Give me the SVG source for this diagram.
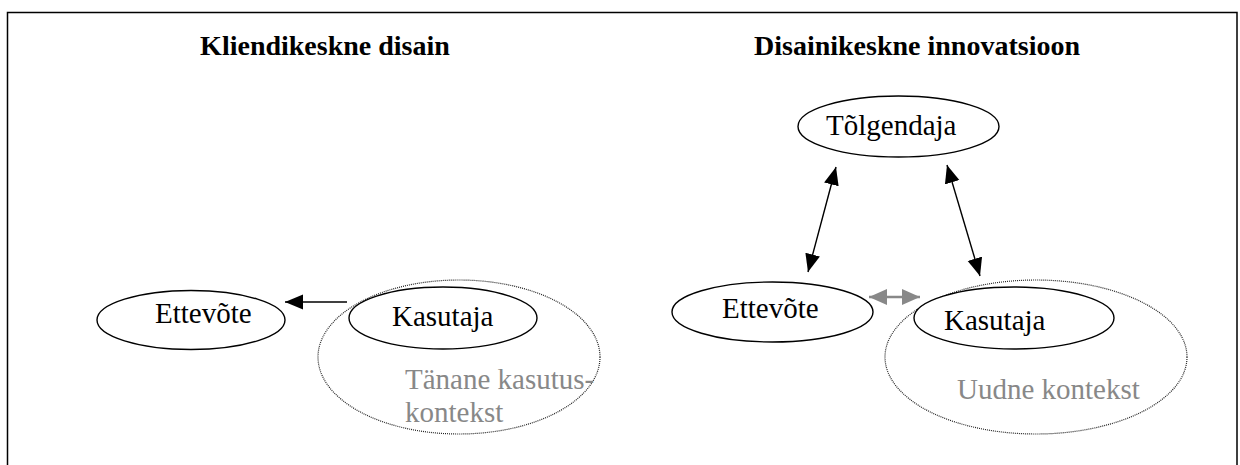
<svg xmlns="http://www.w3.org/2000/svg" width="1240" height="465" viewBox="0 0 1240 465">
<style>
.title{font-family:"Liberation Serif","Times New Roman",serif;font-weight:bold;font-size:28px;fill:#000;text-anchor:middle}
.lbl{font-family:"Liberation Serif","Times New Roman",serif;font-size:29px;fill:#000}
.ctx{font-family:"Liberation Serif","Times New Roman",serif;font-size:29px;fill:#888}
.node{fill:#fff;stroke:#000;stroke-width:1.4}
.area{fill:none;stroke:#222;stroke-width:1.2;stroke-dasharray:1 1}
.conn{stroke:#000;stroke-width:1.4;fill:none}
.conn-gray{stroke:#888;stroke-width:2.5;fill:none}
</style>
<defs>
<marker id="ah" markerUnits="userSpaceOnUse" markerWidth="19" markerHeight="16" refX="18" refY="7.5" orient="auto-start-reverse" viewBox="0 0 19 16">
<path d="M0,0 L18,7.5 L0,15 z" fill="#000"/>
</marker>
<marker id="ahg" markerUnits="userSpaceOnUse" markerWidth="19" markerHeight="17" refX="18" refY="8" orient="auto-start-reverse" viewBox="0 0 19 17">
<path d="M0,0 L18,8 L0,16 z" fill="#888"/>
</marker>
</defs>
<path d="M7.5,470 V12.5 H1237 V470" fill="none" stroke="#000" stroke-width="1.5"/>
<text class="title" x="325" y="55">Kliendikeskne disain</text>
<text class="title" x="917" y="55">Disainikeskne innovatsioon</text>

<g id="ctx-left">
<ellipse class="area" cx="459" cy="357" rx="141" ry="77"/>
<text class="ctx" x="405" y="389">Tänane kasutus-</text>
<text class="ctx" x="405" y="422">kontekst</text>
</g>
<g id="ctx-right">
<ellipse class="area" cx="1036" cy="357" rx="151" ry="77"/>
<text class="ctx" x="957" y="399">Uudne kontekst</text>
</g>

<g id="connectors">
<line class="conn" x1="347" y1="302" x2="285" y2="302" marker-end="url(#ah)"/>
<line class="conn" x1="836" y1="167" x2="808" y2="272" marker-start="url(#ah)" marker-end="url(#ah)"/>
<line class="conn" x1="947" y1="165" x2="980" y2="276" marker-start="url(#ah)" marker-end="url(#ah)"/>
<line class="conn-gray" x1="869" y1="297" x2="920" y2="297" marker-start="url(#ahg)" marker-end="url(#ahg)"/>
</g>

<g id="ettevote-left">
<ellipse class="node" cx="191" cy="320" rx="94" ry="29.5"/>
<text class="lbl" x="155" y="323">Ettevõte</text>
</g>
<g id="kasutaja-left">
<ellipse class="node" cx="443" cy="318" rx="94" ry="31"/>
<text class="lbl" x="392" y="326">Kasutaja</text>
</g>
<g id="tolgendaja">
<ellipse class="node" cx="898.5" cy="126.5" rx="100.5" ry="30.5"/>
<text class="lbl" x="826" y="135">Tõlgendaja</text>
</g>
<g id="ettevote-right">
<ellipse class="node" cx="772.5" cy="312" rx="100.5" ry="30"/>
<text class="lbl" x="722" y="318">Ettevõte</text>
</g>
<g id="kasutaja-right">
<ellipse class="node" cx="1014" cy="318" rx="100" ry="31"/>
<text class="lbl" x="944" y="330">Kasutaja</text>
</g>
</svg>
